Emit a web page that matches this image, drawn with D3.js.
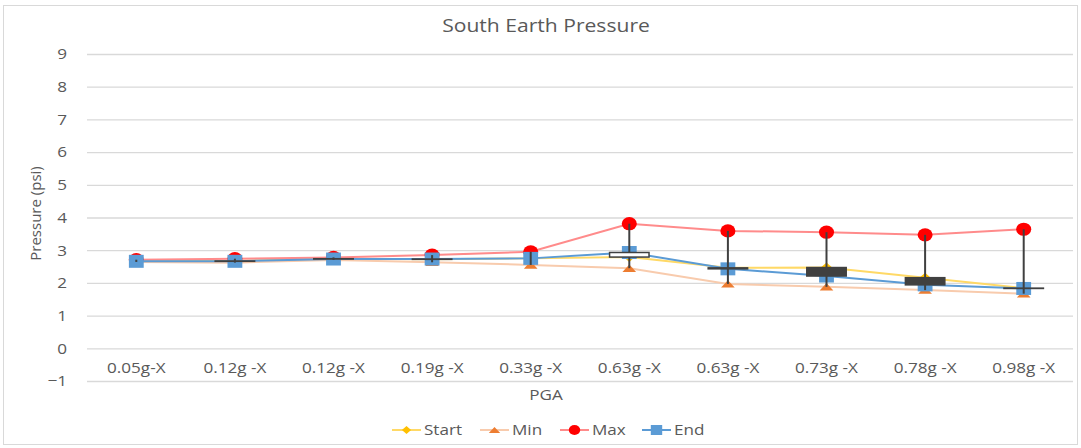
<!DOCTYPE html>
<html>
<head>
<meta charset="utf-8">
<script src="https://cdn.jsdelivr.net/npm/d3@7/dist/d3.min.js"></script>
<style>
  body { margin: 0; background: #fff; }
  text { font-family: "Open Sans", "Liberation Sans", sans-serif; fill: #595959; }
</style>
</head>
<body>
<svg id="chart" width="1081" height="448"></svg>
<script>
// values (psi)
const categories = [ '0.05g-X', '0.12g -X', '0.12g -X', '0.19g -X', '0.33g -X', '0.63g -X', '0.63g -X', '0.73g -X', '0.78g -X', '0.98g -X' ]
const startVals = [ 2.66, 2.67, 2.74, 2.72, 2.75, 2.79, 2.46, 2.47, 2.16, 1.84 ]
const minVals   = [ 2.64, 2.62, 2.70, 2.63, 2.55, 2.45, 1.97, 1.88, 1.78, 1.67 ]
const maxVals   = [ 2.71, 2.74, 2.78, 2.85, 2.95, 3.81, 3.59, 3.55, 3.47, 3.64 ]
const endVals   = [ 2.66, 2.66, 2.73, 2.73, 2.75, 2.93, 2.43, 2.21, 1.94, 1.83 ]
const yTicks = [ -1, 0, 1, 2, 3, 4, 5, 6, 7, 8, 9 ]

const series = [
    { name: 'Start', values: startVals, line: '#FFD966', marker: '#FFC000', shape: 'diamond' },
    { name: 'Min',   values: minVals,   line: '#F8CBAD', marker: '#ED7D31', shape: 'triangle' },
    { name: 'Max',   values: maxVals,   line: '#FF8B8B', marker: '#FF0000', shape: 'circle' },
    { name: 'End',   values: endVals,   line: '#5B9BD5', marker: '#5B9BD5', shape: 'square' }
]

const svg = d3.select('#chart')
const plot = { left: 87, right: 1073, top: 54, bottom: 381 }
// the source picture is a bit wider than tall, so text and markers get stretched
const stretch = 1.14

const x = d3.scaleBand().domain( d3.range( categories.length ) ).range( [ plot.left, plot.right ] )
const y = d3.scaleLinear().domain( [ -1, 9 ] ).range( [ plot.bottom, plot.top ] )
const cx = i => x( i ) + x.bandwidth() / 2

const markerPath = ( shape, s ) => {
    const h = s / 2
    if( shape === 'diamond' ) return `M0,${-h}L${h},0L0,${h}L${-h},0Z`
    if( shape === 'triangle' ) return `M0,${-h * .62}L${h},${h * .62}L${-h},${h * .62}Z`
    if( shape === 'square' ) return `M${-h},${-h}H${h}V${h}H${-h}Z`
    return d3.symbol( d3.symbolCircle, Math.PI * h * h )()
}
const markerSize = { diamond: 10, triangle: 12, circle: 13.2, square: 13 }

// chart frame
svg.append( 'rect' )
    .attr( 'x', 3.5 ).attr( 'y', 5.5 ).attr( 'width', 1074 ).attr( 'height', 439 )
    .attr( 'fill', '#fff' ).attr( 'stroke', '#D9D9D9' )

// gridlines + y labels
svg.append( 'g' )
    .attr( 'transform', `translate( ${plot.left}, 0 )` )
    .call( d3.axisLeft( y ).tickValues( yTicks ).tickSize( -( plot.right - plot.left ) ).tickPadding( 17.5 ) )
    .call( g => g.select( '.domain' ).remove() )
    .call( g => g.selectAll( 'line' ).attr( 'stroke', '#D9D9D9' ).attr( 'stroke-width', 1.3 ) )
    .call( g => g.selectAll( 'text' ).attr( 'font-size', 15 ).attr( 'transform', `scale( ${stretch}, 1 )` ).style( 'fill', '#595959' ) )

// category labels, axis crosses at 0
svg.append( 'g' )
    .attr( 'transform', `translate( 0, ${y( 0 )} )` )
    .call( d3.axisBottom( x ).tickFormat( i => categories[i] ).tickSize( 0 ).tickPadding( 14 ) )
    .call( g => g.select( '.domain' ).remove() )
    .call( g => g.selectAll( 'text' ).attr( 'font-size', 15 ).attr( 'transform', `scale( ${stretch}, 1 )` ).style( 'fill', '#595959' ) )

// titles
svg.append( 'text' ).attr( 'transform', `translate( 546, 32 ) scale( ${stretch}, 1 )` ).attr( 'text-anchor', 'middle' )
    .attr( 'font-size', 18.5 ).text( 'South Earth Pressure' )
svg.append( 'text' ).attr( 'transform', `translate( 546, 400 ) scale( ${stretch}, 1 )` ).attr( 'text-anchor', 'middle' )
    .attr( 'font-size', 15 ).text( 'PGA' )
svg.append( 'text' ).attr( 'transform', `translate( 41, ${( plot.top + plot.bottom ) / 2 - 4} ) rotate( -90 )` )
    .attr( 'text-anchor', 'middle' ).attr( 'font-size', 15 ).text( 'Pressure (psi)' )

// series lines and markers
const line = d3.line().x( ( d, i ) => cx( i ) ).y( d => y( d ) )
series.forEach( s => {
    const g = svg.append( 'g' )
    g.append( 'path' ).attr( 'd', line( s.values ) )
        .attr( 'fill', 'none' ).attr( 'stroke', s.line ).attr( 'stroke-width', 2 )
    g.selectAll( 'path.m' ).data( s.values ).join( 'path' ).attr( 'class', 'm' )
        .attr( 'd', markerPath( s.shape, markerSize[s.shape] ) )
        .attr( 'transform', ( d, i ) => `translate( ${cx( i )}, ${y( d )} ) scale( ${stretch}, 1 )` )
        .attr( 'fill', s.marker )
} )

// high-low lines
svg.append( 'g' ).selectAll( 'line' ).data( categories ).join( 'line' )
    .attr( 'x1', ( d, i ) => cx( i ) ).attr( 'x2', ( d, i ) => cx( i ) )
    .attr( 'y1', ( d, i ) => y( minVals[i] ) ).attr( 'y2', ( d, i ) => y( maxVals[i] ) )
    .attr( 'stroke', '#404040' ).attr( 'stroke-width', 2 )

// up-down bars
const barW = x.step() * .4
svg.append( 'g' ).selectAll( 'rect' ).data( categories ).join( 'rect' )
    .attr( 'x', ( d, i ) => cx( i ) - barW / 2 )
    .attr( 'y', ( d, i ) => y( Math.max( startVals[i], endVals[i] ) ) )
    .attr( 'width', barW )
    .attr( 'height', ( d, i ) => Math.abs( y( startVals[i] ) - y( endVals[i] ) ) )
    .attr( 'fill', ( d, i ) => endVals[i] > startVals[i] ? '#fff' : '#404040' )
    .attr( 'stroke', '#404040' ).attr( 'stroke-width', 1.5 )

// legend
const legendX = [ 392, 480, 560, 642 ]
const legend = svg.append( 'g' ).selectAll( 'g' ).data( series ).join( 'g' )
    .attr( 'transform', ( d, i ) => `translate( ${legendX[i]}, 430 )` )
legend.append( 'line' ).attr( 'x2', 29 ).attr( 'stroke', d => d.line ).attr( 'stroke-width', 2 )
legend.append( 'path' ).attr( 'd', d => markerPath( d.shape, d.shape === 'diamond' ? 8 : 10 ) )
    .attr( 'transform', `translate( 14.5, 0 ) scale( ${stretch}, 1 )` ).attr( 'fill', d => d.marker )
legend.append( 'text' ).attr( 'transform', `translate( 32, 0 ) scale( ${stretch}, 1 )` )
    .attr( 'dy', '0.35em' ).attr( 'font-size', 15 ).text( d => d.name )
</script>
</body>
</html>
